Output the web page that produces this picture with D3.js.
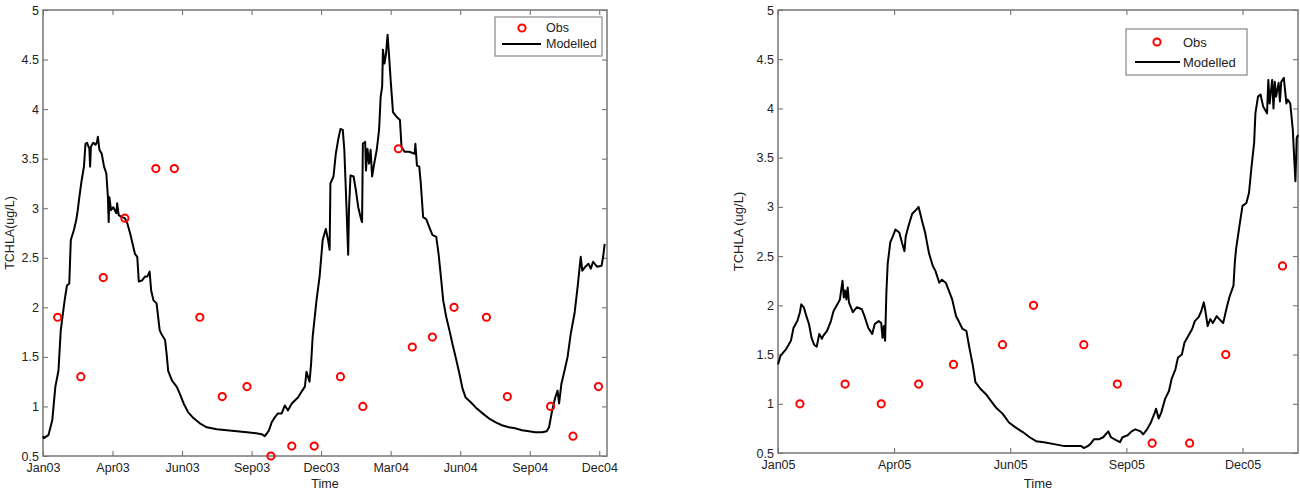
<!DOCTYPE html>
<html>
<head>
<meta charset="utf-8">
<script src="https://cdn.jsdelivr.net/npm/d3@7"></script>
<style>
  body { margin: 0; background: #fff; }
  svg { display: block; font-family: "Liberation Sans", Arial, sans-serif; }
  .axis text { fill: #222; }
  .axis line { stroke: #666; }
  .label-text { fill: #222; }
</style>
</head>
<body>
<div id="chart"></div>
<script>
// y ticks shared by both panels
const yTicks = [0.5, 1, 1.5, 2, 2.5, 3, 3.5, 4, 4.5, 5];

// ---- 2003-2004 panel ----
const ticks0304 = ["2003-01-01", "2003-04-01", "2003-06-30", "2003-09-28", "2003-12-27",
  "2004-03-26", "2004-06-24", "2004-09-22", "2004-12-21"];

const obs0304Dates = ["2003-01-20", "2003-02-19", "2003-03-20", "2003-04-17", "2003-05-27",
  "2003-06-20", "2003-07-23", "2003-08-21", "2003-09-22", "2003-10-23", "2003-11-19",
  "2003-12-18", "2004-01-21", "2004-02-19", "2004-04-05", "2004-04-23", "2004-05-19",
  "2004-06-16", "2004-07-28", "2004-08-24", "2004-10-19", "2004-11-17", "2004-12-20"];
const obs0304Values = [1.9, 1.3, 2.3, 2.9, 3.4, 3.4, 1.9, 1.1, 1.2, 0.5, 0.6, 0.6, 1.3, 1.0,
  3.6, 1.6, 1.7, 2.0, 1.9, 1.1, 1.0, 0.7, 1.2];

// model: days after 2003-01-01
const model0304Days = [0, 1, 7, 12, 16, 20, 23, 28, 31, 34, 36, 40, 43, 45, 47, 50, 53, 55, 57, 60,
  61, 62, 65, 68, 70, 71, 73, 76, 79, 82, 84, 85, 86, 88, 91, 95, 96, 98, 102, 106, 109, 113,
  116, 119, 122, 124, 128, 132, 135, 138, 140, 143, 147, 151, 154, 158, 160, 162, 167, 173,
  177, 182, 188, 195, 203, 212, 225, 238, 251, 264, 276, 283, 287, 292, 296, 300, 304, 309,
  313, 317, 322, 326, 330, 334, 339, 341, 345, 347, 349, 354, 358, 362, 366, 369, 371, 372,
  376, 379, 382, 385, 388, 390, 392, 395, 396, 398, 402, 405, 408, 412, 413, 414, 417, 418,
  420, 422, 424, 426, 428, 432, 435, 437, 439, 440, 442, 444, 446, 448, 450, 453, 458, 462,
  464, 468, 474, 481, 482, 484, 487, 489, 492, 496, 500, 504, 509, 512, 515, 518, 522, 526,
  530, 534, 539, 543, 547, 554, 560, 569, 577, 586, 594, 603, 611, 620, 629, 637, 646, 652,
  655, 659, 663, 666, 668, 671, 675, 679, 683, 688, 692, 696, 698, 702, 706, 709, 712, 717,
  723, 725, 727];
const model0304Values = [0.70, 0.68, 0.71, 0.86, 1.20, 1.36, 1.77, 2.07, 2.22, 2.24, 2.68, 2.78,
  2.88, 2.98, 3.11, 3.28, 3.42, 3.65, 3.66, 3.60, 3.42, 3.62, 3.66, 3.64, 3.67, 3.72, 3.59,
  3.55, 3.42, 3.35, 3.11, 2.86, 3.11, 2.98, 3.01, 2.95, 3.05, 2.93, 2.91, 2.90, 2.85, 2.74,
  2.64, 2.54, 2.51, 2.26, 2.27, 2.31, 2.31, 2.36, 2.17, 2.07, 2.04, 1.77, 1.72, 1.67, 1.53,
  1.36, 1.26, 1.20, 1.13, 1.03, 0.94, 0.88, 0.83, 0.79, 0.77, 0.76, 0.75, 0.74, 0.73, 0.72,
  0.70, 0.75, 0.84, 0.89, 0.93, 0.93, 1.01, 0.96, 1.03, 1.06, 1.09, 1.14, 1.20, 1.35, 1.25,
  1.43, 1.70, 2.07, 2.31, 2.68, 2.79, 2.68, 2.58, 3.25, 3.32, 3.55, 3.69, 3.80, 3.79, 3.59,
  3.18, 2.53, 2.98, 3.33, 3.32, 3.18, 3.01, 2.88, 2.86, 3.65, 3.67, 3.38, 3.60, 3.45, 3.59,
  3.32, 3.42, 3.59, 3.79, 4.12, 4.23, 4.60, 4.46, 4.56, 4.75, 4.53, 4.29, 3.97, 3.92, 3.89,
  3.62, 3.57, 3.57, 3.55, 3.65, 3.43, 3.42, 3.25, 2.91, 2.89, 2.81, 2.73, 2.71, 2.54, 2.31,
  2.07, 1.90, 1.77, 1.63, 1.50, 1.33, 1.18, 1.09, 1.04, 0.99, 0.93, 0.88, 0.84, 0.81, 0.79,
  0.78, 0.76, 0.75, 0.74, 0.74, 0.75, 0.79, 0.96, 1.09, 1.16, 1.03, 1.23, 1.36, 1.50, 1.73,
  1.94, 2.21, 2.51, 2.37, 2.41, 2.44, 2.39, 2.46, 2.41, 2.42, 2.51, 2.64];

// ---- 2005 panel ----
const ticks05 = ["2005-01-01", "2005-04-01", "2005-06-30", "2005-09-28", "2005-12-27"];

const obs05Dates = ["2005-01-18", "2005-02-22", "2005-03-22", "2005-04-20", "2005-05-17",
  "2005-06-24", "2005-07-18", "2005-08-26", "2005-09-21", "2005-10-18", "2005-11-16",
  "2005-12-14", "2006-01-27"];
const obs05Values = [1.0, 1.2, 1.0, 1.2, 1.4, 1.6, 2.0, 1.6, 1.2, 0.6, 0.6, 1.5, 2.4];

// model: days after 2005-01-01
const model05Days = [0, 2, 6, 10, 12, 15, 17, 18, 20, 22, 24, 26, 28, 30, 32, 34, 35, 38, 41, 43,
  46, 48, 50, 51, 52, 53, 54, 55, 58, 61, 65, 67, 70, 73, 75, 78, 80, 81, 82, 83, 84, 85, 87,
  89, 91, 94, 96, 98, 99, 101, 104, 107, 109, 112, 114, 117, 120, 122, 125, 127, 130, 133,
  135, 138, 140, 143, 146, 148, 151, 153, 157, 161, 165, 169, 174, 179, 184, 190, 195, 200,
  206, 214, 222, 229, 235, 237, 240, 242, 245, 249, 252, 256, 258, 262, 265, 267, 271, 274,
  277, 281, 283, 286, 289, 292, 293, 295, 297, 300, 303, 305, 308, 310, 313, 315, 318, 321,
  323, 326, 328, 330, 331, 333, 335, 337, 340, 342, 345, 348, 350, 353, 354, 355, 358, 360,
  363, 365, 367, 369, 370, 372, 374, 376, 379, 380, 381, 383, 384, 385, 386, 388, 389, 390,
  392, 394, 395, 397, 399, 400, 401, 402, 403];
const model05Values = [1.40, 1.49, 1.55, 1.64, 1.77, 1.84, 1.93, 2.01, 1.98, 1.89, 1.81, 1.67,
  1.60, 1.58, 1.71, 1.66, 1.69, 1.74, 1.84, 1.94, 2.01, 2.06, 2.25, 2.08, 2.15, 2.06, 2.18,
  2.03, 1.93, 1.98, 1.96, 1.89, 1.77, 1.71, 1.81, 1.84, 1.82, 1.67, 1.79, 1.64, 2.13, 2.42,
  2.64, 2.70, 2.77, 2.74, 2.64, 2.55, 2.70, 2.80, 2.93, 2.97, 3.00, 2.84, 2.74, 2.53, 2.40,
  2.35, 2.23, 2.26, 2.23, 2.13, 2.06, 1.89, 1.84, 1.76, 1.74, 1.59, 1.39, 1.22, 1.15, 1.10,
  1.03, 0.96, 0.90, 0.81, 0.76, 0.71, 0.66, 0.62, 0.61, 0.59, 0.57, 0.57, 0.57, 0.55, 0.57,
  0.59, 0.64, 0.64, 0.66, 0.72, 0.66, 0.63, 0.61, 0.66, 0.68, 0.72, 0.74, 0.72, 0.69, 0.74,
  0.81, 0.91, 0.95, 0.85, 0.91, 1.05, 1.13, 1.25, 1.35, 1.47, 1.50, 1.62, 1.69, 1.76, 1.84,
  1.88, 1.94, 2.03, 1.96, 1.79, 1.86, 1.82, 1.89, 1.86, 1.82, 1.99, 2.09, 2.20, 2.43, 2.57,
  2.84, 3.01, 3.04, 3.14, 3.41, 3.65, 3.95, 4.12, 4.14, 4.02, 3.95, 4.29, 4.05, 4.29, 4.00,
  4.27, 4.12, 4.26, 4.07, 4.27, 4.31, 4.05, 4.09, 4.05, 3.78, 3.51, 3.26, 3.70, 3.73];

const parseDate = d3.timeParse("%Y-%m-%d");
const fmtTick = d3.timeFormat("%b%y");

const svg = d3.select("#chart")
  .append("svg")
  .attr("width", 1300)
  .attr("height", 490);

function styleAxis(a, size) {
  a.attr("font-size", size).attr("font-family", null);
  a.select(".domain").remove();
}

function drawPanel(p) {
  const start = parseDate(p.start);
  const end = d3.timeDay.offset(start, p.span);

  const x = d3.scaleTime().domain([start, end]).range([p.left, p.right]);
  const y = d3.scaleLinear().domain([0.5, 5]).range([p.bottom, p.top]);

  const g = svg.append("g").attr("font-size", p.fontSize);

  const xTicks = p.ticks.map(parseDate);

  // bottom / top axis
  g.append("g")
    .attr("class", "axis")
    .attr("transform", `translate(0,${p.bottom})`)
    .call(d3.axisBottom(x).tickValues(xTicks).tickFormat(fmtTick)
      .tickSizeInner(-5).tickSizeOuter(0).tickPadding(7.5))
    .call(styleAxis, p.tickFont);

  g.append("g")
    .attr("class", "axis")
    .attr("transform", `translate(0,${p.top})`)
    .call(d3.axisTop(x).tickValues(xTicks).tickFormat("")
      .tickSizeInner(-5).tickSizeOuter(0))
    .call(styleAxis, p.tickFont);

  // left / right axis
  g.append("g")
    .attr("class", "axis")
    .attr("transform", `translate(${p.left},0)`)
    .call(d3.axisLeft(y).tickValues(yTicks).tickFormat(d => d)
      .tickSizeInner(-5).tickSizeOuter(0).tickPadding(4))
    .call(styleAxis, p.tickFont);

  g.append("g")
    .attr("class", "axis")
    .attr("transform", `translate(${p.right},0)`)
    .call(d3.axisRight(y).tickValues(yTicks).tickFormat("")
      .tickSizeInner(-5).tickSizeOuter(0))
    .call(styleAxis, p.tickFont);

  // frame
  g.append("rect")
    .attr("x", p.left)
    .attr("y", p.top)
    .attr("width", p.right - p.left)
    .attr("height", p.bottom - p.top)
    .attr("fill", "none")
    .attr("stroke", "#777")
    .attr("stroke-width", 1.5);

  // modelled line
  const model = p.modelDays.map((d, i) => ({ date: d3.timeDay.offset(start, d), value: p.modelValues[i] }));
  g.append("path")
    .datum(model)
    .attr("fill", "none")
    .attr("stroke", "#000")
    .attr("stroke-width", 2)
    .attr("stroke-linejoin", "round")
    .attr("d", d3.line().x(d => x(d.date)).y(d => y(d.value)));

  // observations
  const obs = p.obsDates.map((d, i) => ({ date: parseDate(d), value: p.obsValues[i] }));
  g.selectAll(".obs")
    .data(obs)
    .join("circle")
    .attr("class", "obs")
    .attr("cx", d => x(d.date))
    .attr("cy", d => y(d.value))
    .attr("r", 3.6)
    .attr("fill", "none")
    .attr("stroke", "#f00")
    .attr("stroke-width", 2);

  // axis titles
  g.append("text")
    .attr("class", "label-text")
    .attr("x", (p.left + p.right) / 2)
    .attr("y", 488)
    .attr("text-anchor", "middle")
    .text("Time");

  g.append("text")
    .attr("class", "label-text")
    .attr("transform", "rotate(-90)")
    .attr("x", -(p.top + p.bottom) / 2)
    .attr("y", p.ylabelX)
    .attr("text-anchor", "middle")
    .text(p.ylabel);

  // legend
  const L = p.legend;
  const lg = g.append("g");
  lg.append("rect")
    .attr("x", L.x).attr("y", L.y)
    .attr("width", L.w).attr("height", L.h)
    .attr("fill", "#fff")
    .attr("stroke", "#888")
    .attr("stroke-width", 1.2);
  lg.append("circle")
    .attr("cx", L.markX).attr("cy", L.row1)
    .attr("r", 3.6)
    .attr("fill", "none")
    .attr("stroke", "#f00")
    .attr("stroke-width", 2);
  lg.append("line")
    .attr("x1", L.lineX1).attr("x2", L.lineX2)
    .attr("y1", L.row2).attr("y2", L.row2)
    .attr("stroke", "#000")
    .attr("stroke-width", 2);
  lg.append("text")
    .attr("class", "label-text")
    .attr("x", L.textX).attr("y", L.row1)
    .attr("dy", "0.35em")
    .text("Obs");
  lg.append("text")
    .attr("class", "label-text")
    .attr("x", L.textX).attr("y", L.row2)
    .attr("dy", "0.35em")
    .text("Modelled");
}

drawPanel({
  left: 43, right: 607, top: 10, bottom: 456,
  start: "2003-01-01", span: 730,
  ticks: ticks0304,
  obsDates: obs0304Dates, obsValues: obs0304Values,
  modelDays: model0304Days, modelValues: model0304Values,
  ylabel: "TCHLA(ug/L)", ylabelX: 14, fontSize: 12.5, tickFont: 12.5,
  legend: { x: 495, y: 17, w: 107, h: 39, markX: 522, lineX1: 502, lineX2: 541, textX: 546, row1: 28, row2: 44 }
});

drawPanel({
  left: 778, right: 1298, top: 10, bottom: 453,
  start: "2005-01-01", span: 403,
  ticks: ticks05,
  obsDates: obs05Dates, obsValues: obs05Values,
  modelDays: model05Days, modelValues: model05Values,
  ylabel: "TCHLA (ug/L)", ylabelX: 743, fontSize: 13, tickFont: 12.5,
  legend: { x: 1126, y: 29, w: 121, h: 46, markX: 1157, lineX1: 1135, lineX2: 1180, textX: 1183, row1: 42, row2: 62 }
});
</script>
</body>
</html>
